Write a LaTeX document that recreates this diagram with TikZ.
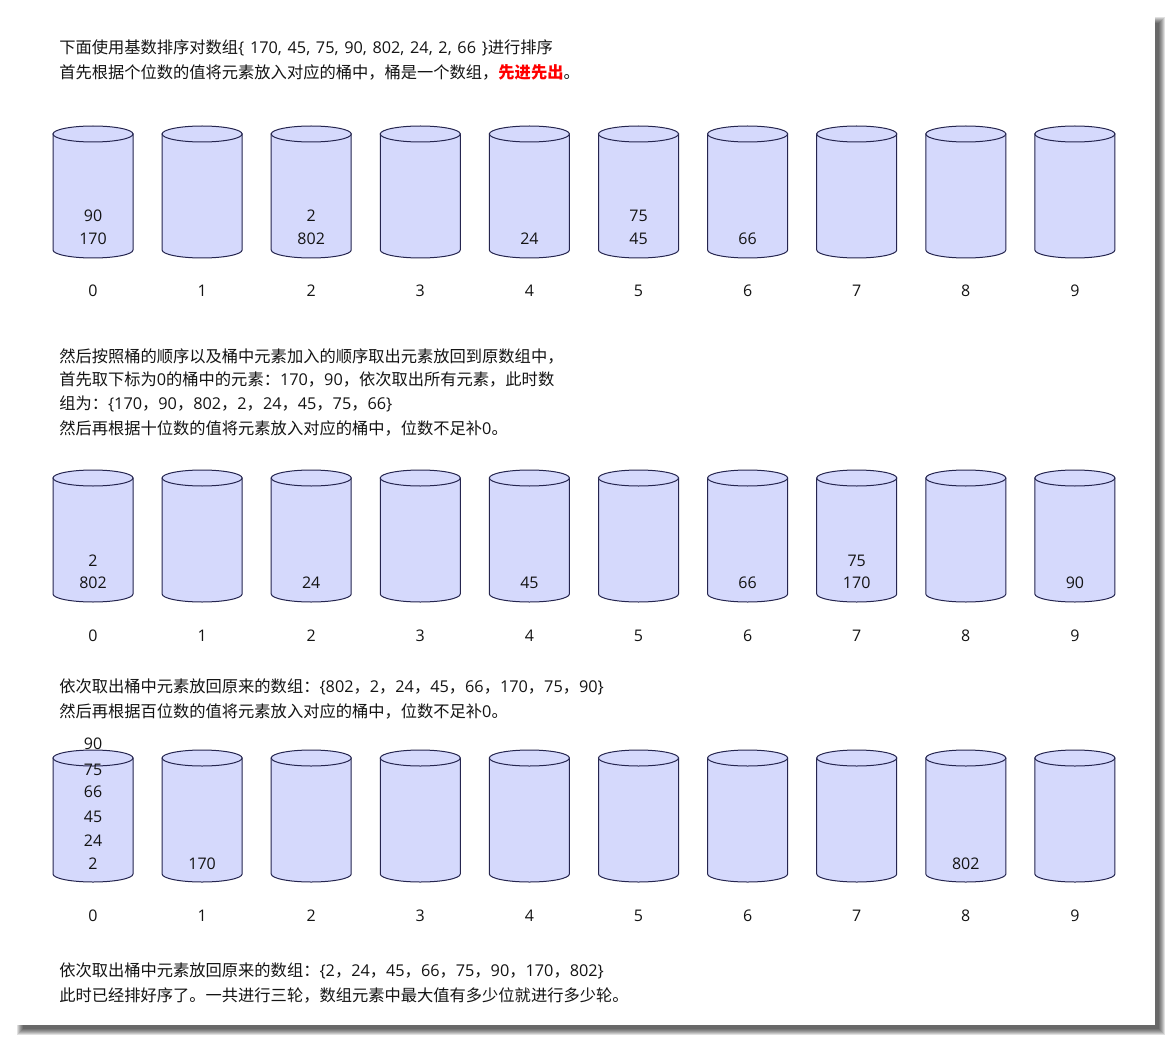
\documentclass[tikz,border=0pt]{standalone}
\usepackage{fontspec}
\setmainfont{Noto Sans CJK SC}
\newfontfamily\latfont{Open Sans}
\newfontfamily\latwide{Open Sans}[WordSpace=1.35]
\newcommand\ltn[1]{{\latfont #1}}

\definecolor{bktFill}{HTML}{D5D9FC}
\definecolor{bktLine}{HTML}{25254F}
\definecolor{txtDark}{HTML}{141414}

\tikzset{
  bucket/.style={fill=bktFill,draw=bktLine,line width=0.75pt},
  txt/.style={anchor=west,inner sep=0pt,text=txtDark},
  num/.style={inner sep=0pt,text=txtDark,font=\fontsize{12}{14}\latfont},
}

\begin{document}
\begin{tikzpicture}[x=0.75pt,y=0.75pt,font=\fontsize{12.2}{14}\selectfont]
  \useasboundingbox (0,0) rectangle (1170,-1041);
  % panel with shadow
  \foreach \e in {4,3,2,1,0,-1,-2}
    \fill[black,opacity=0.12] ({21-\e},{-21+\e}) rectangle ({1161+\e},{-1031-\e});
  \fill[white] (15,-15) rectangle (1155,-1025);

  % buckets
  \foreach \yt/\yl in {134/291,478/636,758/916} {
    \foreach \i [evaluate=\i as \cx using 93+109.1*\i] in {0,...,9} {
      \filldraw[bucket] ({\cx-40},-\yt) -- ({\cx-40},{-\yt-116})
        arc[start angle=180,end angle=360,x radius=40,y radius=8]
        -- ({\cx+40},-\yt) -- cycle;
      \filldraw[bucket] (\cx,-\yt) ellipse[x radius=40,y radius=8];
      \node[num] (lb\yl\i) at (\cx,-\yl) {\i};
    }
  }

  % contents, pass 1 (units)
  \foreach \i/\y/\v [count=\k] in {0/216/90,0/239/170,2/216/2,2/239/802,4/239/24,5/216/75,5/239/45,6/239/66}
    \node[num] (pa\k) at ({93+109.1*\i},-\y) {\v};
  % contents, pass 2 (tens)
  \foreach \i/\y/\v [count=\k] in {0/561/2,0/583/802,2/583/24,4/583/45,6/583/66,7/561/75,7/583/170,9/583/90}
    \node[num] (pb\k) at ({93+109.1*\i},-\y) {\v};
  % contents, pass 3 (hundreds)
  \foreach \i/\y/\v [count=\k] in {0/744/90,0/770/75,0/792/66,0/817/45,0/841/24,0/864/2,1/864/170,8/864/802}
    \node[num] (pc\k) at ({93+109.1*\i},-\y) {\v};

  % text
  \node[txt] (t1) at (59,-48) {下面使用基数排序对数组{\latwide\{ 170, 45, 75, 90, 802, 24, 2, 66 \}}进行排序};
  \node[txt] (t2) at (59,-72) {首先根据个位数的值将元素放入对应的桶中，桶是一个数组，\textbf{\color{red}先进先出}。};
  \node[txt] (t3) at (59,-356) {然后按照桶的顺序以及桶中元素加入的顺序取出元素放回到原数组中，};
  \node[txt] (t4) at (59,-380) {首先取下标为\ltn{0}的桶中的元素：\ltn{170}，\ltn{90}，依次取出所有元素，此时数};
  \node[txt] (t5) at (59,-404) {组为：\ltn{\{170}，\ltn{90}，\ltn{802}，\ltn{2}，\ltn{24}，\ltn{45}，\ltn{75}，\ltn{66\}}};
  \node[txt] (t6) at (59,-428) {然后再根据十位数的值将元素放入对应的桶中，位数不足补\ltn{0}。};
  \node[txt] (t7) at (59,-687) {依次取出桶中元素放回原来的数组：\ltn{\{802}，\ltn{2}，\ltn{24}，\ltn{45}，\ltn{66}，\ltn{170}，\ltn{75}，\ltn{90\}}};
  \node[txt] (t8) at (59,-711) {然后再根据百位数的值将元素放入对应的桶中，位数不足补\ltn{0}。};
  \node[txt] (t9) at (59,-971) {依次取出桶中元素放回原来的数组：\ltn{\{2}，\ltn{24}，\ltn{45}，\ltn{66}，\ltn{75}，\ltn{90}，\ltn{170}，\ltn{802\}}};
  \node[txt] (t10) at (59,-995) {此时已经排好序了。一共进行三轮，数组元素中最大值有多少位就进行多少轮。};
\end{tikzpicture}
\end{document}
